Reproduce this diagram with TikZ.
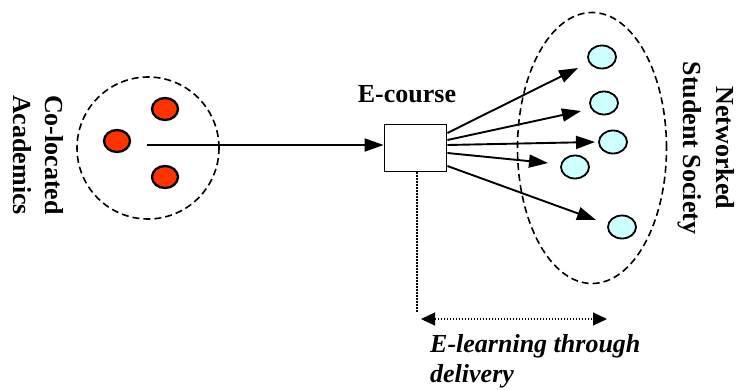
\documentclass[tikz,border=0pt]{standalone}
\usepackage{fontspec}
\setmainfont{Liberation Serif}
\usetikzlibrary{arrows.meta,shapes.geometric}
\definecolor{redc}{HTML}{FF3300}
\definecolor{cyanc}{HTML}{CCFFFF}
\begin{document}
\begin{tikzpicture}[x=1pt,y=-1pt,
  lbl/.style={font=\fontsize{26}{32}\selectfont\bfseries, inner sep=0},
  redn/.style={ellipse, draw, line width=2.3pt, fill=redc, minimum width=26pt, minimum height=22pt, inner sep=0},
  cyann/.style={ellipse, draw, line width=1.8pt, fill=cyanc, minimum width=28pt, minimum height=23pt, inner sep=0},
  grp/.style={draw, dash pattern=on 7pt off 4pt, line width=1.6pt, inner sep=0},
  arr/.style={line width=1.9pt, -{Triangle[length=19pt,width=13pt]}},
  dotl/.style={line width=1.1pt, dash pattern=on 1.1pt off 1.9pt},
  dotarr/.style={line width=1.1pt, dash pattern=on 1.1pt off 1.9pt, {Triangle[length=14pt,width=13pt]}-{Triangle[length=14pt,width=13pt]}}
]
\useasboundingbox (0,0) rectangle (736,389);
% groups
\node[grp, circle, minimum size=142pt] (lc) at (148,148) {};
\node[grp, ellipse, minimum width=149pt, minimum height=271pt] (ss) at (592,148) {};
% academics
\node[redn] (r1) at (165,109) {};
\node[redn] (r2) at (117,141) {};
\node[redn] (r3) at (165,177) {};
% students
\node[cyann] (c1) at (602,57) {};
\node[cyann] (c2) at (604,103) {};
\node[cyann] (c3) at (613,142) {};
\node[cyann] (c4) at (575,167) {};
\node[cyann] (c5) at (622,227) {};
% e-course box
\node[draw, line width=1.8pt, minimum width=62pt, minimum height=47pt, inner sep=0] (ec) at (415.5,148) {};
\node[lbl, anchor=base] (ect) at (407,102) {E-course};
% connectors
\coordinate (s) at (147,145);
\draw[arr] (s) -- ([yshift=3pt]ec.west);
\coordinate (a1) at (578,68);
\coordinate (a2) at (581,111);
\coordinate (a3) at (595,142);
\coordinate (a4) at (548,163);
\coordinate (a5) at (596,220);
\draw[arr] ([yshift=15pt]ec.east) -- (a1);
\draw[arr] ([yshift=8pt]ec.east) -- (a2);
\draw[arr] ([yshift=3pt]ec.east) -- (a3);
\draw[arr] ([yshift=-5pt]ec.east) -- (a4);
\draw[arr] ([yshift=-18pt]ec.east) -- (a5);
% delivery
\coordinate (d1) at (417,313);
\draw[dotl] ([xshift=1.5pt]ec.south) -- (d1);
\coordinate (b1) at (421,319);
\coordinate (b2) at (607,319);
\draw[dotarr] (b1) -- (b2);
\node[inner sep=0, font=\fontsize{26}{30}\selectfont\bfseries\itshape, align=left, anchor=base west] (dl) at (430,382) {E-learning through\\delivery};
% side labels
\node[lbl, rotate=-90, align=center] (acl) at (38,155) {Co-located\\Academics};
\node[lbl, font=\fontsize{26}{33}\selectfont\bfseries, rotate=-90, align=center] (ssl) at (706.5,148) {Networked\\Student Society};
\end{tikzpicture}
\end{document}
